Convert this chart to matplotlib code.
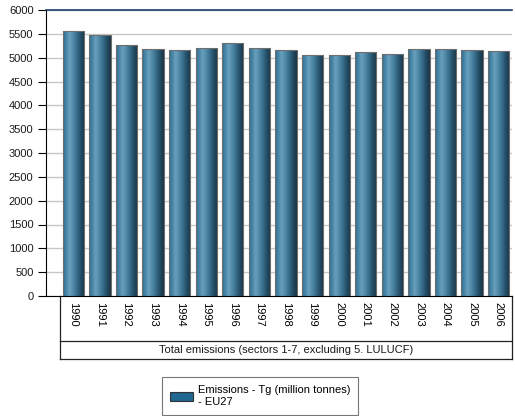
import numpy as np
import matplotlib.pyplot as plt
from matplotlib.colors import LinearSegmentedColormap
from matplotlib.patches import Patch
from matplotlib.lines import Line2D

plt.rcParams['font.family'] = ['Liberation Sans', 'DejaVu Sans']
plt.rcParams['font.size'] = 8

years = ['1990', '1991', '1992', '1993', '1994', '1995', '1996', '1997', '1998',
         '1999', '2000', '2001', '2002', '2003', '2004', '2005', '2006']
emissions = [5560, 5485, 5270, 5178, 5157, 5198, 5311, 5198, 5157,
             5055, 5055, 5117, 5076, 5177, 5177, 5157, 5136]
yticks = [0, 500, 1000, 1500, 2000, 2500, 3000, 3500, 4000, 4500, 5000, 5500, 6000]
group_label = 'Total emissions (sectors 1-7, excluding 5. LULUCF)'
series_label = 'Emissions - Tg (million tonnes)\n- EU27'

fig = plt.figure(figsize=(5.15, 4.16), dpi=100)
ax = fig.add_axes([46 / 515, 1 - 296 / 416, 466 / 515, 286 / 416])

x = np.arange(len(years))
bars = ax.bar(x, emissions, width=0.8, color='#2a6e94', edgecolor='#6e6e6e',
              linewidth=0.8, zorder=2)

# horizontal shading for the cylinder look
shade = LinearSegmentedColormap.from_list('shade', [
    (0.0, '#2b6d92'), (0.3, '#6aa0bd'), (0.55, '#437c9c'),
    (0.82, '#234d66'), (1.0, '#1a3445')])
grad = np.linspace(0, 1, 64).reshape(1, -1)
for b in bars:
    x0, w, h = b.get_x(), b.get_width(), b.get_height()
    im = ax.imshow(grad, cmap=shade, aspect='auto', extent=(x0, x0 + w, 0, h),
                   zorder=2.5, interpolation='bicubic')
    im.set_clip_path(b)
    b.set_facecolor('none')
    b.set_zorder(3)

ax.set_xlim(-0.5 - 14 / 26.6, len(years) - 0.5)
ax.set_ylim(0, 6000)
ax.set_yticks(yticks)
ax.grid(axis='y', color='#c8c8c8', linewidth=1.0, zorder=0)
ax.set_axisbelow(True)

ax.spines['right'].set_visible(False)
ax.spines['top'].set_color('#1f3d6b')
ax.spines['top'].set_linewidth(1.2)
ax.spines['left'].set_color('black')
ax.spines['bottom'].set_color('black')
ax.tick_params(axis='y', length=6, width=0.8, pad=3, labelcolor='#1a1a1a')
ax.tick_params(axis='x', length=0, pad=4)
ax.set_xticks(x)
ax.set_xticklabels(years, rotation=-90, va='top', ha='center')

# category table under the bars
tr = ax.get_xaxis_transform()
x_left, x_right = -0.5, len(years) - 0.5
y_mid, y_bot = -45 / 286, -63 / 286
for xs, ys in [((x_left, x_left), (0, y_bot)), ((x_right, x_right), (0, y_bot)),
               ((x_left, x_right), (y_mid, y_mid)), ((x_left, x_right), (y_bot, y_bot))]:
    ax.add_line(Line2D(xs, ys, transform=tr, color='#222222', linewidth=0.9,
                       clip_on=False))
ax.text((x_left + x_right) / 2, (y_mid + y_bot) / 2, group_label, transform=tr,
        ha='center', va='center', color='#1a1a1a')

handle = Patch(facecolor='#1f6690', edgecolor='#333333', linewidth=0.8)
leg = fig.legend([handle], [series_label], loc='upper left',
                 bbox_to_anchor=(162 / 515, 1 - 377 / 416), borderaxespad=0,
                 frameon=True, fancybox=False, edgecolor='#555555',
                 handlelength=2.0, handleheight=0.8, handletextpad=0.45,
                 borderpad=0.75, fontsize=8)
leg.get_frame().set_linewidth(0.8)

fig.savefig('out.png', dpi=100)
